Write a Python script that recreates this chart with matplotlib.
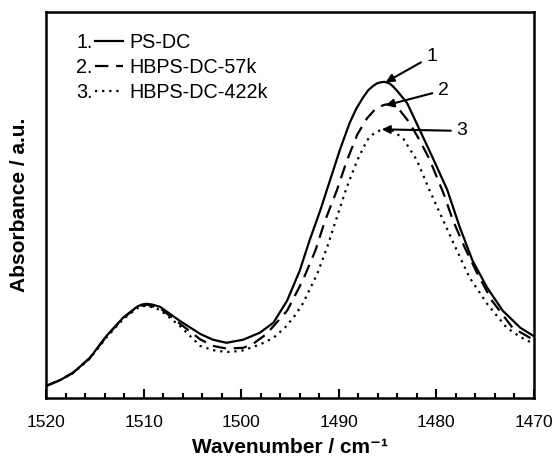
import numpy as np
import matplotlib.pyplot as plt
from matplotlib.ticker import MultipleLocator

plt.rcParams['font.family'] = ['Liberation Sans', 'DejaVu Sans']

# PS-DC (solid)
wn_ps = [1520, 1518.5, 1517.2, 1515.5, 1513.8, 1512.1, 1510.7, 1510.2, 1509.7, 1509.1,
         1508.3, 1506.3, 1504.2, 1502.9, 1501.5, 1499.8, 1498.1, 1496.7, 1495.3, 1494.0,
         1493.0, 1491.9, 1490.9, 1489.9, 1488.9, 1488.2, 1487.5, 1487.0, 1486.5, 1486.1,
         1485.7, 1485.3, 1484.8, 1484.4, 1484.0, 1483.0, 1481.7, 1480.3, 1478.9, 1477.6,
         1476.3, 1474.8, 1473.2, 1471.4, 1470.0]
abs_ps = [0.031, 0.047, 0.066, 0.104, 0.161, 0.208, 0.236, 0.242, 0.244, 0.242,
          0.236, 0.200, 0.166, 0.151, 0.143, 0.151, 0.169, 0.195, 0.252, 0.330,
          0.408, 0.486, 0.564, 0.642, 0.712, 0.750, 0.779, 0.797, 0.808, 0.815,
          0.818, 0.819, 0.815, 0.806, 0.795, 0.764, 0.694, 0.618, 0.540, 0.442,
          0.356, 0.286, 0.226, 0.182, 0.160]

# HBPS-DC-57k (dashed)
wn_57k = [1520, 1518.5, 1517.2, 1515.5, 1513.8, 1512.1, 1510.7, 1509.7, 1508.3, 1506.3,
          1504.2, 1502.9, 1501.5, 1499.8, 1498.8, 1497.4, 1495.3, 1493.7, 1492.4, 1491.4,
          1490.2, 1489.2, 1488.1, 1487.1, 1486.2, 1485.4, 1485.0, 1484.6, 1483.9, 1482.8,
          1481.7, 1480.7, 1479.3, 1478.3, 1477.1, 1475.8, 1474.3, 1472.2, 1470.0]
abs_57k = [0.031, 0.047, 0.066, 0.104, 0.160, 0.207, 0.235, 0.242, 0.232, 0.193,
           0.152, 0.135, 0.128, 0.130, 0.140, 0.166, 0.226, 0.304, 0.382, 0.460,
           0.538, 0.613, 0.683, 0.725, 0.750, 0.759, 0.761, 0.759, 0.750, 0.715,
           0.667, 0.618, 0.532, 0.460, 0.390, 0.322, 0.252, 0.182, 0.150]

# HBPS-DC-422k (dotted)
wn_422k = [1520, 1518.5, 1517.2, 1515.5, 1513.8, 1512.1, 1510.7, 1509.7, 1508.3, 1506.3,
           1504.2, 1502.9, 1501.5, 1500.0, 1498.8, 1497.5, 1496.5, 1495.5, 1494.6, 1493.7,
           1492.2, 1491.2, 1490.2, 1489.2, 1488.1, 1487.1, 1486.3, 1485.5, 1485.0, 1484.5,
           1483.4, 1482.0, 1480.7, 1479.3, 1477.9, 1476.6, 1474.8, 1472.8, 1471.4, 1470.0]
abs_422k = [0.031, 0.047, 0.065, 0.102, 0.157, 0.204, 0.232, 0.240, 0.228, 0.187,
            0.135, 0.124, 0.119, 0.122, 0.132, 0.145, 0.160, 0.183, 0.210, 0.244,
            0.322, 0.390, 0.468, 0.545, 0.616, 0.668, 0.688, 0.696, 0.697, 0.693,
            0.672, 0.616, 0.538, 0.460, 0.382, 0.312, 0.244, 0.182, 0.158, 0.140]

labels = ['PS-DC', 'HBPS-DC-57k', 'HBPS-DC-422k']
nums = ['1.', '2.', '3.']

fig = plt.figure(figsize=(5.55, 4.58), dpi=100)
ax = fig.add_axes([46/555, 60/458, 488/555, 386/458])

l1, = ax.plot(wn_ps, abs_ps, color='black', lw=1.6, ls='-')
l2, = ax.plot(wn_57k, abs_57k, color='black', lw=1.6, ls=(0, (6, 3.5)))
l3, = ax.plot(wn_422k, abs_422k, color='black', lw=1.6, ls=(0, (1, 2.2)))

ax.set_xlim(1520, 1470)
ax.set_ylim(0, 1.0)
ax.set_yticks([])
ax.xaxis.set_major_locator(MultipleLocator(10))
ax.xaxis.set_minor_locator(MultipleLocator(2))
ax.tick_params(axis='x', which='major', direction='in', length=6.5, width=1.5,
               labelsize=12.5, pad=12, top=False)
ax.tick_params(axis='x', which='minor', direction='in', length=3.3, width=1.5, top=False)
for s in ax.spines.values():
    s.set_linewidth(1.8)

ax.set_xlabel('Wavenumber / cm⁻¹', fontsize=15, fontweight='bold', labelpad=6)
ax.set_ylabel('Absorbance / a.u.', fontsize=15, fontweight='bold', labelpad=12)

# peak labels with arrows
arrow = dict(arrowstyle='-|>', color='black', lw=1.5, mutation_scale=12, shrinkA=2, shrinkB=0)
ax.annotate('1', xy=(1485.2, 0.818), xytext=(1480.5, 0.885), fontsize=14,
            ha='center', va='center', arrowprops=arrow)
ax.annotate('2', xy=(1485.2, 0.758), xytext=(1479.3, 0.797), fontsize=14,
            ha='center', va='center', arrowprops=arrow)
ax.annotate('3', xy=(1485.6, 0.696), xytext=(1477.4, 0.692), fontsize=14,
            ha='center', va='center', arrowprops=arrow)

leg_fs = 14.2
leg = ax.legend([l1, l2, l3], labels, loc='upper left', bbox_to_anchor=(0.1, 0.945),
                frameon=False, fontsize=leg_fs, handlelength=1.45, handletextpad=0.3,
                labelspacing=0.3, borderpad=0, borderaxespad=0)

fig.canvas.draw()
fs_px = leg_fs * fig.dpi / 72
inv = ax.transAxes.inverted()
for t, n in zip(leg.get_texts(), nums):
    bb = t.get_window_extent()
    xh = bb.x0 - (0.3 + 1.45) * fs_px - 2
    yc = (bb.y0 + bb.y1) / 2
    xa, ya = inv.transform((xh, yc))
    ax.text(xa, ya, n, transform=ax.transAxes, fontsize=leg_fs, ha='right', va='center')

fig.savefig('out.png', dpi=100)
